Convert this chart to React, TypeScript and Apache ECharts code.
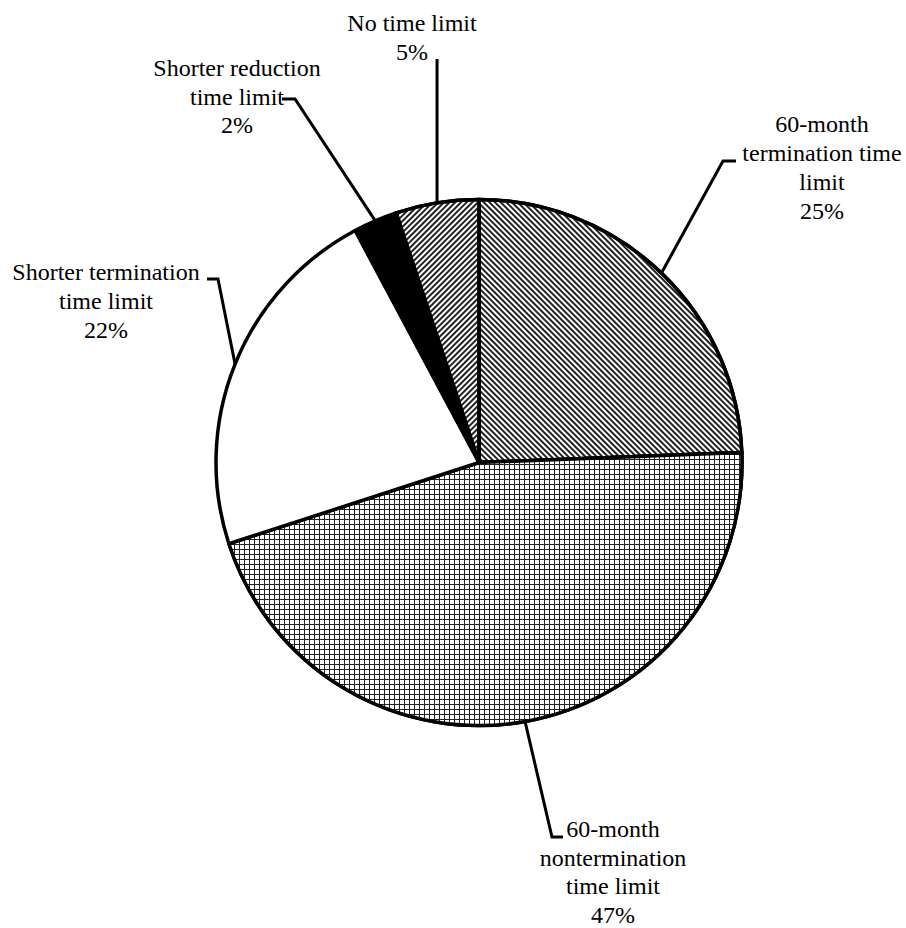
import React, { useEffect, useRef } from 'react';
import * as echarts from 'echarts';

// ---- data ----
const categories = [
  '60-month\ntermination time\nlimit',
  '60-month\nnontermination\ntime limit',
  'Shorter termination\ntime limit',
  'Shorter reduction\ntime limit',
  'No time limit',
];
const shares = [24.4, 45.6, 22.2, 2.7, 5.1];
const shownPercents = [25, 47, 22, 2, 5];

// ---- layout (not data) ----
const CENTER = [479, 462.5];
const RADIUS = 263;
const LINE_H = 28.7;
const labelCenters = [
  [822, 167.5],
  [613, 872],
  [106, 301],
  [237, 96.7],
  [412, 37.5],
];
const labelElbows: (number[] | null)[][] = [
  [[723, 161], [736, 161]],
  [[552, 837], [563, 837]],
  [[218, 279], [207, 279]],
  [[295, 99], [282, 99]],
  [null, null],
];

const FONT_CSS = `
  svg text, svg tspan { font-family: "Liberation Serif", "Times New Roman", serif !important; }
`;

export default function App() {
  const ref = useRef<HTMLDivElement>(null);
  useEffect(() => {
    document.body.style.margin = '0';
    const chart = echarts.init(ref.current!, null, { renderer: 'svg' });

    const styles: any[] = [
      {
        color: '#ffffff',
        decal: {
          symbol: 'rect',
          symbolSize: 1,
          color: '#222222',
          dashArrayX: [1, 0],
          dashArrayY: [2, 2],
          rotation: Math.PI / 4,
        },
      },
      {
        color: '#222222',
        decal: {
          symbol: 'rect',
          symbolSize: 1,
          color: '#ffffff',
          dashArrayX: [4, 1],
          dashArrayY: [4, 1],
          rotation: 0,
        },
      },
      { color: '#ffffff' },
      { color: '#000000' },
      {
        color: '#ffffff',
        decal: {
          symbol: 'rect',
          symbolSize: 1,
          color: '#222222',
          dashArrayX: [1, 0],
          dashArrayY: [2, 2],
          rotation: -Math.PI / 4,
        },
      },
    ];

    const total = shares.reduce((a, b) => a + b, 0);
    const edgePoint = (i: number) => {
      let before = 0;
      for (let k = 0; k < i; k++) before += shares[k];
      const mid = ((before + shares[i] / 2) / total) * 2 * Math.PI;
      return [CENTER[0] + RADIUS * Math.sin(mid), CENTER[1] - RADIUS * Math.cos(mid)];
    };

    const FONT = 'Liberation Serif';
    const graphics: any[] = [];
    shares.forEach((_, i) => {
      const e = edgePoint(i);
      const el = labelElbows[i];
      const p1 = el[0] ? el[0] : [e[0], 59];
      const p2 = el[1] ? el[1] : [e[0], 59];
      graphics.push({
        type: 'polyline',
        silent: true,
        z: 10,
        shape: { points: [e, p1, p2] },
        style: { stroke: '#000', lineWidth: 3, fill: null, lineJoin: 'miter' },
      });
      const lines = `${categories[i]}\n${shownPercents[i]}%`.split('\n');
      lines.forEach((s, j) => {
        graphics.push({
          type: 'text',
          silent: true,
          z: 10,
          x: labelCenters[i][0],
          y: labelCenters[i][1] + (j - (lines.length - 1) / 2) * LINE_H,
          style: {
            text: s,
            fontFamily: FONT,
            fontSize: 24,
            fill: '#000',
            align: 'center',
            verticalAlign: 'middle',
          },
        });
      });
    });

    chart.setOption({
      animation: false,
      backgroundColor: '#ffffff',
      series: [
        {
          type: 'pie',
          center: CENTER,
          radius: RADIUS,
          startAngle: 90,
          clockwise: true,
          silent: true,
          itemStyle: { borderColor: '#000', borderWidth: 3.5 },
          label: { show: false },
          labelLine: { show: false },
          data: shares.map((v, i) => ({
            value: v,
            name: categories[i],
            itemStyle: styles[i],
          })),
        },
      ],
      graphic: graphics,
    });
    return () => chart.dispose();
  }, []);
  return (
    <>
      <style>{FONT_CSS}</style>
      <div ref={ref} style={{ width: 906, height: 928 }} />
    </>
  );
}
